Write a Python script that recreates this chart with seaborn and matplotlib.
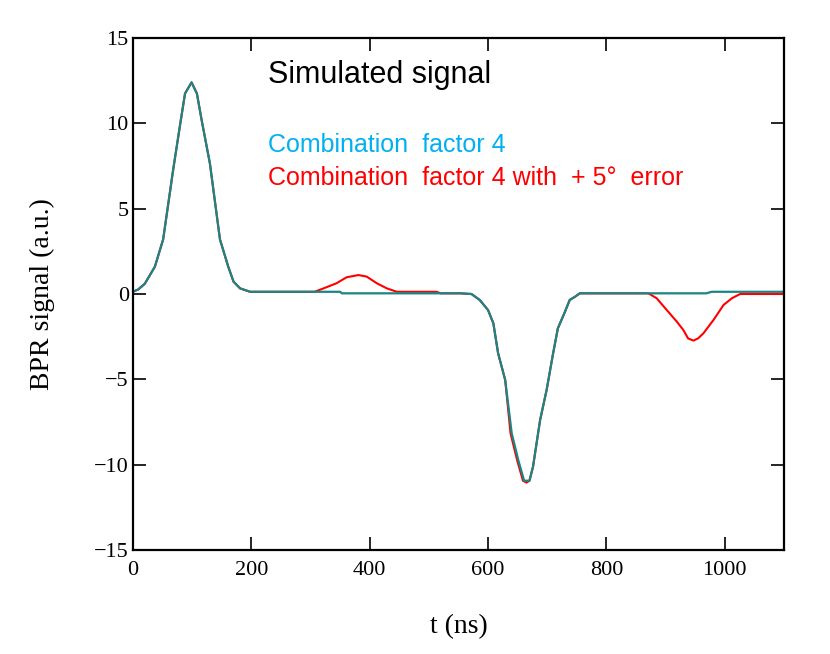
import numpy as np
import pandas as pd
import matplotlib
matplotlib.use('Agg')
import matplotlib.pyplot as plt
import seaborn as sns

# Signal (t in ns, signal in a.u.)
t_comb = [0, 9, 20, 37, 51, 68, 80, 88, 99, 108, 116, 130, 147, 161, 170, 181, 198,
          350, 353, 553, 572, 586, 600, 609, 617, 629, 640, 651, 661, 670, 676, 688,
          699, 710, 718, 730, 738, 747, 755, 969, 978, 1100]
y_comb = [0.13, 0.27, 0.6, 1.6, 3.2, 7.3, 10.0, 11.75, 12.4, 11.75, 10.2, 7.65, 3.2, 1.6, 0.72, 0.33, 0.13,
          0.13, 0.04, 0.04, 0.0, -0.35, -0.94, -1.72, -3.47, -5.04, -8.16, -9.72, -10.94, -10.94, -10.12, -7.38,
          -5.62, -3.47, -2.01, -1.04, -0.35, -0.16, 0.04, 0.04, 0.13, 0.13]

t_err = [0, 9, 20, 37, 51, 68, 80, 88, 99, 108, 116, 130, 147, 161, 170, 181, 198,
         307, 322, 344, 361, 381, 395, 412, 429, 446, 513, 520,
         553, 572, 586, 600, 609, 617, 629, 638, 649, 659, 665, 670, 676, 688,
         699, 710, 718, 730, 738, 747, 755,
         871, 885, 902, 919, 930, 938, 947, 955, 964, 981, 998, 1012, 1026, 1100]
y_err = [0.13, 0.27, 0.6, 1.6, 3.2, 7.3, 10.0, 11.75, 12.4, 11.75, 10.2, 7.65, 3.2, 1.6, 0.72, 0.33, 0.13,
         0.13, 0.33, 0.63, 0.98, 1.11, 1.02, 0.63, 0.33, 0.13, 0.13, 0.04,
         0.04, 0.0, -0.35, -0.94, -1.72, -3.47, -5.04, -8.16, -9.72, -10.94, -11.05, -10.94, -10.12, -7.38,
         -5.62, -3.47, -2.01, -1.04, -0.35, -0.16, 0.04,
         0.04, -0.25, -0.94, -1.62, -2.11, -2.6, -2.73, -2.6, -2.3, -1.52, -0.64, -0.25, 0.0, 0.0]

x_ticks = [0, 200, 400, 600, 800, 1000]
y_ticks = [-15, -10, -5, 0, 5, 10, 15]

teal = '#1a8585'
red = '#ff0000'
sky = '#00b0f0'

sns.set_theme(style='white')
plt.rcParams['font.family'] = ['Liberation Serif', 'DejaVu Serif']

fig = plt.figure(figsize=(8.3, 6.54), dpi=100)
ax = fig.add_axes([0.1602, 0.159, 0.7843, 0.7829])

err_df = pd.DataFrame({'t': t_err, 'signal': y_err})
comb_df = pd.DataFrame({'t': t_comb, 'signal': y_comb})
sns.lineplot(data=err_df, x='t', y='signal', ax=ax, color=red, linewidth=1.5, sort=False)
sns.lineplot(data=comb_df, x='t', y='signal', ax=ax, color=teal, linewidth=1.6, sort=False)

ax.set_xlim(0, 1100)
ax.set_ylim(-15, 15)
ax.set_xticks(x_ticks)
ax.set_yticks(y_ticks)

for s in ax.spines.values():
    s.set_color('black')
    s.set_linewidth(1.6)

ax.tick_params(axis='both', which='major', direction='in', length=9.5, width=1.2,
               color='black', top=True, right=True, bottom=True, left=True,
               labelsize=16, labelcolor='black')
ax.tick_params(axis='x', pad=8)
ax.tick_params(axis='y', pad=3)

ax.set_xlabel('t (ns)', fontsize=20, color='black')
ax.set_ylabel('BPR signal (a.u.)', fontsize=20, color='black')
ax.xaxis.set_label_coords(0.5, -0.125)
ax.yaxis.set_label_coords(-0.12, 0.5)

sans = ['Liberation Sans', 'DejaVu Sans']
ax.text(0.207, 0.9115, 'Simulated signal', transform=ax.transAxes, fontsize=22,
        color='black', family=sans, va='baseline', ha='left')
ax.text(0.207, 0.778, 'Combination  factor 4', transform=ax.transAxes, fontsize=18,
        color=sky, family=sans, va='baseline', ha='left')
ax.text(0.207, 0.713, 'Combination  factor 4 with  + 5\u00b0  error', transform=ax.transAxes,
        fontsize=18, color=red, family=sans, va='baseline', ha='left')

plt.savefig('out.png', dpi=100)
plt.close()
